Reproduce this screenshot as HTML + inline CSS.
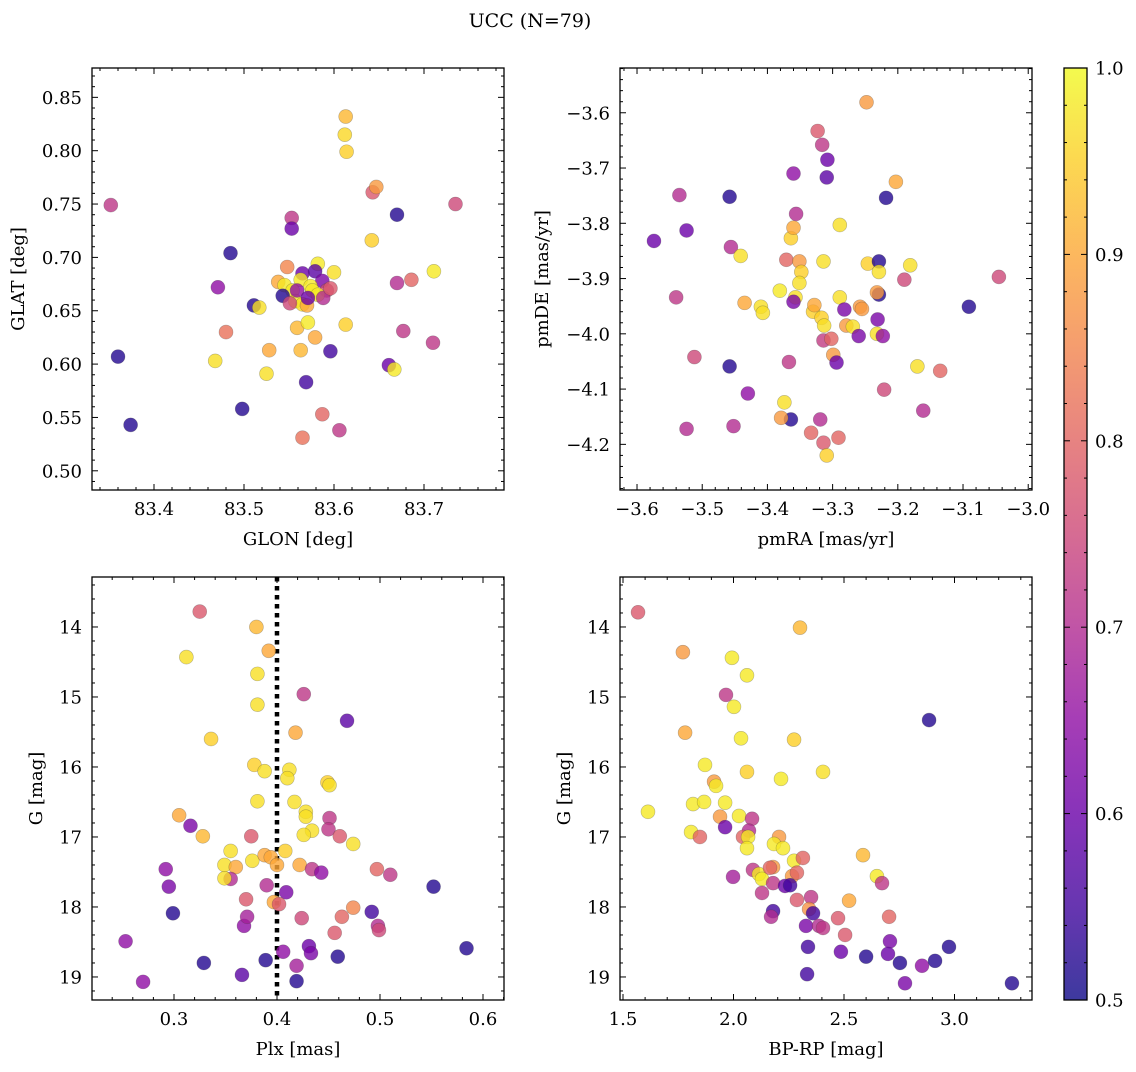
<!DOCTYPE html>
<html><head><meta charset="utf-8"><style>
body{margin:0;background:#fff;}
svg text{font-family:"DejaVu Serif","Liberation Serif",serif;fill:#000;}
</style></head><body>
<svg id="fig" width="1136" height="1067" xmlns="http://www.w3.org/2000/svg">
<text x="530" y="27" font-size="19" text-anchor="middle">UCC (N=79)</text>
</svg>
<script>
// ---- Panel 1: GLON / GLAT ----
const glon = [83.352,83.360,83.374,83.485,83.471,83.468,83.480,83.498,83.511,83.517,83.525,83.528,83.538,83.553,83.553,83.548,83.565,83.563,83.559,83.569,83.571,83.579,83.587,83.596,83.600,83.606,83.613,83.612,83.614,83.613,83.643,83.647,83.642,83.670,83.670,83.661,83.667,83.677,83.686,83.710,83.711,83.735,83.582,83.565,83.579,83.587,83.592,83.545,83.563,83.554,83.574,83.576,83.582,83.543,83.557,83.565,83.570,83.551,83.559,83.571,83.588,83.596];
const glat = [0.749,0.607,0.543,0.704,0.672,0.603,0.630,0.558,0.655,0.653,0.591,0.613,0.677,0.737,0.727,0.691,0.531,0.613,0.634,0.583,0.639,0.625,0.553,0.612,0.686,0.538,0.832,0.815,0.799,0.637,0.761,0.766,0.716,0.740,0.676,0.599,0.595,0.631,0.679,0.620,0.687,0.750,0.694,0.685,0.687,0.678,0.669,0.674,0.679,0.669,0.673,0.669,0.665,0.664,0.659,0.656,0.655,0.657,0.669,0.662,0.662,0.671];
const prob1 = [0.72,0.52,0.52,0.52,0.65,0.97,0.82,0.52,0.52,0.97,0.97,0.9,0.9,0.72,0.6,0.85,0.82,0.92,0.92,0.55,0.98,0.9,0.8,0.55,0.97,0.72,0.92,0.96,0.95,0.95,0.78,0.88,0.95,0.52,0.7,0.6,0.98,0.72,0.8,0.72,0.98,0.75,0.98,0.6,0.58,0.62,0.75,0.98,0.98,0.98,0.98,0.98,0.98,0.52,0.98,0.97,0.9,0.75,0.65,0.6,0.7,0.78];
// ---- Panel 2: pmRA / pmDE ----
const pmra = [-3.574,-3.535,-3.524,-3.540,-3.512,-3.524,-3.458,-3.456,-3.441,-3.435,-3.410,-3.458,-3.452,-3.430,-3.407,-3.381,-3.371,-3.364,-3.360,-3.356,-3.360,-3.351,-3.348,-3.351,-3.357,-3.360,-3.367,-3.364,-3.374,-3.379,-3.323,-3.316,-3.308,-3.309,-3.314,-3.330,-3.317,-3.313,-3.314,-3.328,-3.333,-3.319,-3.314,-3.309,-3.302,-3.299,-3.294,-3.291,-3.289,-3.289,-3.282,-3.279,-3.269,-3.258,-3.255,-3.260,-3.248,-3.246,-3.229,-3.229,-3.229,-3.232,-3.231,-3.232,-3.223,-3.221,-3.218,-3.203,-3.190,-3.181,-3.170,-3.161,-3.135,-3.091,-3.045];
const pmde = [-3.832,-3.749,-3.813,-3.934,-4.042,-4.172,-3.752,-3.843,-3.859,-3.944,-3.951,-4.059,-4.167,-4.108,-3.962,-3.922,-3.866,-3.827,-3.808,-3.783,-3.710,-3.869,-3.888,-3.908,-3.934,-3.942,-4.051,-4.155,-4.124,-4.152,-3.633,-3.658,-3.685,-3.717,-3.869,-3.960,-3.971,-3.985,-4.012,-3.948,-4.179,-4.155,-4.197,-4.220,-4.009,-4.038,-4.052,-4.188,-3.803,-3.934,-3.956,-3.985,-3.987,-3.951,-3.955,-4.004,-3.581,-3.873,-3.869,-3.929,-3.888,-3.925,-3.974,-4.000,-4.004,-4.101,-3.754,-3.725,-3.902,-3.876,-4.059,-4.139,-4.067,-3.951,-3.897];
const prob2 = [0.6,0.7,0.6,0.72,0.75,0.7,0.52,0.7,0.97,0.9,0.97,0.52,0.7,0.65,0.97,0.98,0.8,0.95,0.9,0.7,0.65,0.88,0.95,0.97,0.97,0.62,0.72,0.52,0.97,0.88,0.78,0.72,0.6,0.58,0.97,0.95,0.95,0.97,0.73,0.9,0.8,0.7,0.78,0.95,0.8,0.88,0.6,0.8,0.97,0.97,0.62,0.88,0.97,0.88,0.88,0.62,0.88,0.95,0.52,0.52,0.97,0.88,0.62,0.97,0.65,0.75,0.52,0.9,0.75,0.97,0.97,0.7,0.8,0.52,0.75];
// ---- Panel 3: Plx / G ----
const plx = [0.325,0.312,0.380,0.392,0.381,0.426,0.381,0.468,0.418,0.336,0.378,0.388,0.412,0.410,0.449,0.451,0.381,0.417,0.428,0.428,0.451,0.305,0.316,0.328,0.434,0.426,0.450,0.461,0.474,0.375,0.355,0.408,0.376,0.388,0.394,0.349,0.360,0.422,0.400,0.292,0.434,0.443,0.497,0.510,0.355,0.349,0.390,0.295,0.552,0.409,0.370,0.397,0.402,0.474,0.253,0.270,0.299,0.329,0.366,0.368,0.371,0.389,0.406,0.419,0.419,0.424,0.431,0.433,0.459,0.456,0.463,0.492,0.498,0.499,0.584];
const gmag3 = [13.78,14.43,14.00,14.34,14.67,14.96,15.11,15.34,15.51,15.60,15.97,16.06,16.04,16.16,16.22,16.26,16.49,16.50,16.64,16.71,16.73,16.69,16.84,16.99,16.91,16.97,16.89,16.99,17.10,16.99,17.20,17.20,17.34,17.26,17.29,17.40,17.43,17.40,17.40,17.46,17.46,17.51,17.46,17.54,17.60,17.59,17.69,17.71,17.71,17.79,17.89,17.93,17.96,18.01,18.49,19.07,18.09,18.80,18.97,18.27,18.14,18.76,18.64,19.06,18.84,18.16,18.56,18.66,18.71,18.37,18.14,18.07,18.27,18.33,18.59];
const prob3 = [0.78,0.97,0.92,0.9,0.97,0.72,0.97,0.58,0.9,0.95,0.95,0.97,0.97,0.97,0.95,0.97,0.97,0.97,0.97,0.97,0.72,0.9,0.62,0.92,0.97,0.97,0.72,0.78,0.97,0.78,0.97,0.95,0.97,0.9,0.9,0.97,0.9,0.9,0.9,0.65,0.72,0.65,0.8,0.72,0.7,0.97,0.7,0.62,0.52,0.62,0.78,0.9,0.78,0.85,0.65,0.65,0.52,0.52,0.58,0.65,0.68,0.52,0.65,0.52,0.68,0.75,0.6,0.62,0.52,0.78,0.8,0.55,0.7,0.75,0.52];
// ---- Panel 4: BP-RP / G ----
const bprp = [1.568,2.301,1.771,1.993,2.061,1.966,2.002,1.781,2.034,2.274,1.871,2.061,2.215,2.405,1.912,1.921,1.613,1.817,1.867,1.962,1.939,2.025,2.084,1.962,1.808,1.848,2.070,2.043,2.066,2.206,2.183,2.224,2.061,2.274,2.314,1.998,2.088,2.115,2.129,2.179,2.165,2.265,2.287,2.179,2.233,2.256,2.129,2.586,2.649,2.672,2.287,2.351,2.523,2.179,2.170,2.342,2.360,2.328,2.387,2.405,2.473,2.505,2.704,2.708,2.337,2.486,2.600,2.699,2.753,2.853,2.912,2.975,2.333,2.776,3.260,2.885];
const gmag4 = [13.79,14.01,14.36,14.44,14.69,14.97,15.14,15.51,15.59,15.61,15.97,16.07,16.17,16.07,16.21,16.27,16.64,16.53,16.50,16.51,16.71,16.70,16.74,16.86,16.93,17.00,16.91,17.00,17.00,17.00,17.10,17.16,17.16,17.34,17.30,17.57,17.47,17.53,17.60,17.43,17.44,17.56,17.51,17.66,17.70,17.69,17.80,17.26,17.56,17.66,17.90,17.86,17.91,18.06,18.14,18.03,18.09,18.27,18.27,18.30,18.16,18.40,18.14,18.49,18.57,18.64,18.71,18.67,18.80,18.84,18.77,18.57,18.96,19.09,19.09,15.33];
const prob4 = [0.78,0.92,0.88,0.98,0.98,0.72,0.98,0.9,0.98,0.95,0.98,0.95,0.98,0.97,0.88,0.98,0.98,0.98,0.98,0.98,0.88,0.98,0.72,0.6,0.98,0.8,0.7,0.8,0.98,0.88,0.98,0.98,0.98,0.98,0.8,0.68,0.72,0.98,0.98,0.88,0.8,0.88,0.8,0.72,0.6,0.55,0.72,0.92,0.98,0.72,0.78,0.72,0.9,0.55,0.7,0.87,0.55,0.62,0.7,0.72,0.78,0.78,0.8,0.62,0.55,0.6,0.52,0.6,0.52,0.65,0.52,0.52,0.55,0.62,0.52,0.52];
// colorbar ticks
const cbTicks = [0.5,0.6,0.7,0.8,0.9,1.0];

const NS = 'http://www.w3.org/2000/svg';
const svg = document.getElementById('fig');
function mk(tag, attrs, parent){const e=document.createElementNS(NS,tag);for(const k in attrs)e.setAttribute(k,attrs[k]);(parent||svg).appendChild(e);return e;}
const stops=['#0d0887','#41049d','#6a00a8','#8f0da4','#b12a90','#cc4778','#e16462','#f2844b','#fca636','#fcce25','#f0f921'];
function hex(h){return [parseInt(h.slice(1,3),16),parseInt(h.slice(3,5),16),parseInt(h.slice(5,7),16)];}
function plasma(t){t=Math.max(0,Math.min(1,t));const f=t*10;const i=Math.min(9,Math.floor(f));const r=f-i;const a=hex(stops[i]),b=hex(stops[i+1]);return 'rgb('+a.map((v,k)=>Math.round(v+(b[k]-v)*r)).join(',')+')';}
function pc(p){return plasma((p-0.5)/0.5);}
function fmt(v,d){return (v<0?'\u2212':'')+Math.abs(v).toFixed(d);}
const FS=18;

function panel(o){
  const g=mk('g',{});
  
  
  const sx=v=>o.x0+(v-o.xmin)/(o.xmax-o.xmin)*o.w;
  const sy=o.yinv?(v=>o.y0+(v-o.ymin)/(o.ymax-o.ymin)*o.h):(v=>o.y0+o.h-(v-o.ymin)/(o.ymax-o.ymin)*o.h);
  if(o.vline!==undefined){
    const l=mk('line',{x1:sx(o.vline),x2:sx(o.vline),y1:o.y0,y2:o.y0+o.h,stroke:'#000','stroke-width':4.5,'stroke-dasharray':'4.5 4.5'},g);
    
    
  }
  for(let i=0;i<o.xs.length;i++){
    const c=mk('circle',{cx:sx(o.xs[i]),cy:sy(o.ys[i]),r:7,fill:pc(o.ps[i]),'fill-opacity':0.8,stroke:'rgba(60,60,60,0.35)','stroke-width':0.6},g);
    
    
  }
  const fr=mk('rect',{x:o.x0,y:o.y0,width:o.w,height:o.h,fill:'none',stroke:'#000','stroke-width':1.3},g);
  
  
  const eps=1e-9;
  const xa=Math.min(o.xmin,o.xmax),xb=Math.max(o.xmin,o.xmax);
  for(let v=Math.ceil(xa/o.xminor-eps)*o.xminor;v<=xb+eps;v+=o.xminor){
    const isMaj=Math.abs(v/o.xmajor-Math.round(v/o.xmajor))<1e-6;const L=isMaj?6:3;const X=sx(v);
    mk('line',{x1:X,x2:X,y1:o.y0+o.h,y2:o.y0+o.h-L,stroke:'#000','stroke-width':1},g);
    mk('line',{x1:X,x2:X,y1:o.y0,y2:o.y0+L,stroke:'#000','stroke-width':1},g);
    if(isMaj){const t=mk('text',{x:X,y:o.y0+o.h+25,'font-size':FS,'text-anchor':'middle'},g);t.textContent=fmt(Math.round(v/o.xmajor)*o.xmajor,o.xd);
      
      }
  }
  const ya=Math.min(o.ymin,o.ymax),yb=Math.max(o.ymin,o.ymax);
  for(let v=Math.ceil(ya/o.yminor-eps)*o.yminor;v<=yb+eps;v+=o.yminor){
    const isMaj=Math.abs(v/o.ymajor-Math.round(v/o.ymajor))<1e-6;const L=isMaj?6:3;const Y=sy(v);
    mk('line',{x1:o.x0,x2:o.x0+L,y1:Y,y2:Y,stroke:'#000','stroke-width':1},g);
    mk('line',{x1:o.x0+o.w,x2:o.x0+o.w-L,y1:Y,y2:Y,stroke:'#000','stroke-width':1},g);
    if(isMaj){const t=mk('text',{x:o.x0-10,y:Y+6.5,'font-size':FS,'text-anchor':'end'},g);t.textContent=fmt(Math.round(v/o.ymajor)*o.ymajor,o.yd);
      
      }
  }
  const xt=mk('text',{x:o.x0+o.w/2,y:o.y0+o.h+55,'font-size':FS,'text-anchor':'middle'},g);xt.textContent=o.xl;
  
  
  const yt=mk('text',{x:o.ylx,y:o.y0+o.h/2,'font-size':FS,'text-anchor':'middle',transform:'rotate(-90 '+o.ylx+' '+(o.y0+o.h/2)+')'},g);yt.textContent=o.yl;
  
  
}

panel({name:'glon-glat-panel',x0:92,y0:68,w:412,h:422,xmin:83.3311,xmax:83.7889,ymin:0.4820,ymax:0.8775,xs:glon,ys:glat,ps:prob1,xmajor:0.1,xminor:0.02,ymajor:0.05,yminor:0.01,xd:1,yd:2,xl:'GLON [deg]',yl:'GLAT [deg]',ylx:24});
panel({name:'proper-motion-panel',x0:620,y0:68,w:412,h:422,xmin:-3.6261,xmax:-2.9942,ymin:-4.2826,ymax:-3.519,xs:pmra,ys:pmde,ps:prob2,xmajor:0.1,xminor:0.02,ymajor:0.1,yminor:0.02,xd:1,yd:1,xl:'pmRA [mas/yr]',yl:'pmDE [mas/yr]',ylx:548});
panel({name:'parallax-panel',x0:92,y0:577,w:412,h:423,xmin:0.2204,xmax:0.6204,ymin:13.286,ymax:19.329,yinv:true,xs:plx,ys:gmag3,ps:prob3,xmajor:0.1,xminor:0.02,ymajor:1,yminor:0.2,xd:1,yd:0,xl:'Plx [mas]',yl:'G [mag]',ylx:42,vline:0.4});
panel({name:'cmd-panel',x0:620,y0:577,w:412,h:423,xmin:1.4864,xmax:3.3507,ymin:13.286,ymax:19.329,yinv:true,xs:bprp,ys:gmag4,ps:prob4,xmajor:0.5,xminor:0.1,ymajor:1,yminor:0.2,xd:1,yd:0,xl:'BP-RP [mag]',yl:'G [mag]',ylx:570});

// colorbar
const cb=mk('g',{});


const defs=mk('defs',{},cb);
const lg=mk('linearGradient',{id:'cbg',x1:0,y1:1,x2:0,y2:0},defs);
for(let i=0;i<=10;i++){mk('stop',{offset:i/10,'stop-color':stops[i]},lg);}
mk('rect',{x:1064,y:68,width:23,height:932,fill:'url(#cbg)','fill-opacity':0.8},cb);
mk('rect',{x:1064,y:68,width:23,height:932,fill:'none',stroke:'#000','stroke-width':1.3},cb);
const cy=v=>1000-(v-0.5)/0.5*932;
for(let k=0;k<=25;k++){const v=0.5+k*0.02;const Y=cy(v);const maj=k%5===0;
  mk('line',{x1:1087,x2:1087-(maj?6:3),y1:Y,y2:Y,stroke:'#000','stroke-width':1},cb);
  mk('line',{x1:1064,x2:1064+(maj?6:3),y1:Y,y2:Y,stroke:'#000','stroke-width':1},cb);}
cbTicks.forEach(v=>{const t=mk('text',{x:1095,y:cy(v)+6.5,'font-size':FS},cb);t.textContent=v.toFixed(1);
  
  });
</script>
</body></html>
